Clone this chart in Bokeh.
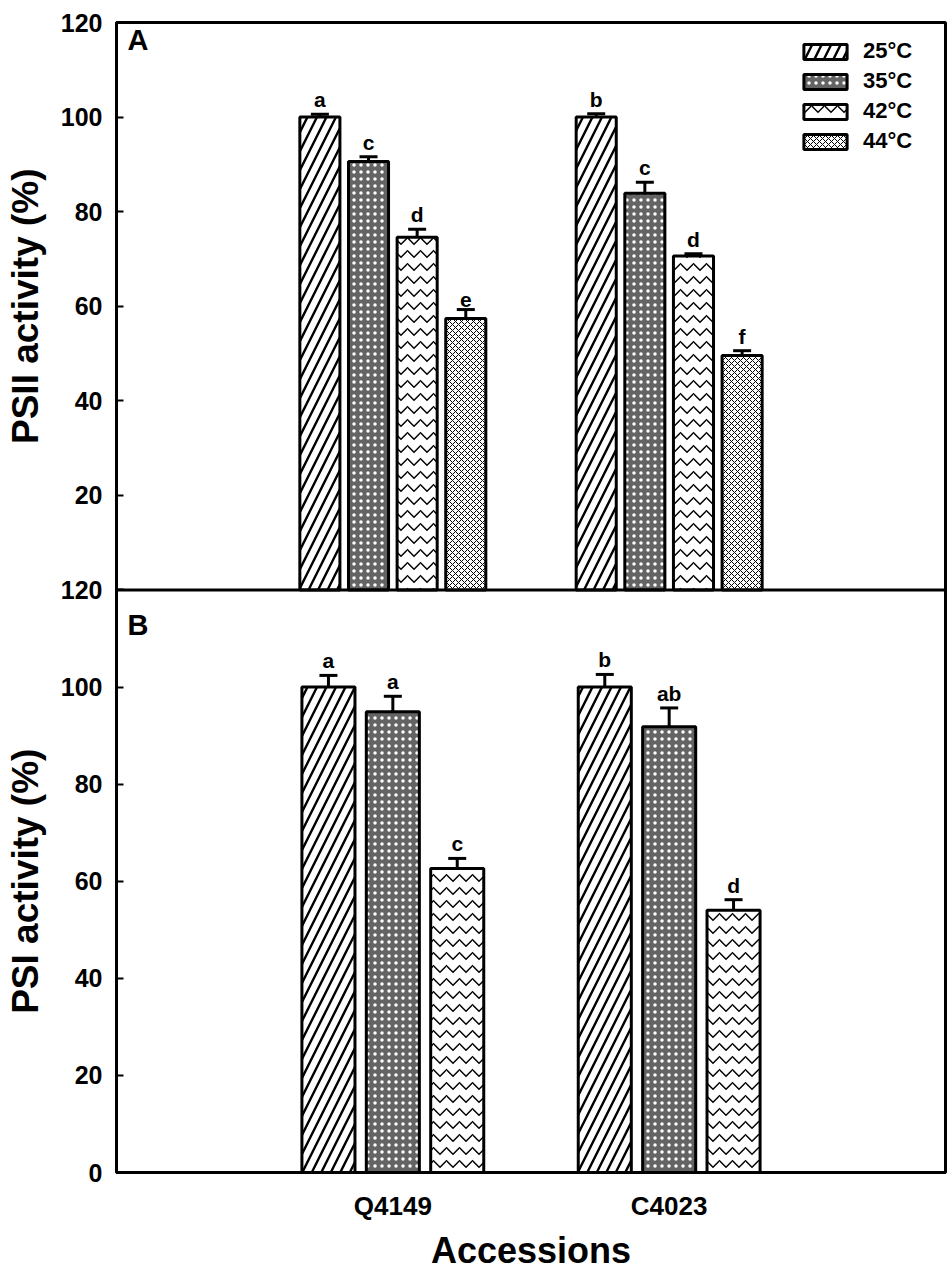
import math
from bokeh.plotting import figure
from bokeh.layouts import row
from bokeh.models import Range1d, FixedTicker, Whisker, TeeHead, ColumnDataSource, Legend, LegendItem, Label, Span
from bokeh.embed import file_html
from bokeh.resources import INLINE
from bokeh.core.properties import value

FONT = "Liberation Sans"

accessions = ["Q4149", "C4023"]

# Panel A: PSII activity
temps_a = ["25°C", "35°C", "42°C", "44°C"]
psii_vals = [[100.0, 100.0], [90.6, 83.9], [74.6, 70.6], [57.4, 49.6]]
psii_err = [[0.6, 0.7], [1.0, 2.3], [1.7, 0.5], [1.9, 1.0]]
psii_letters = [["a", "b"], ["c", "c"], ["d", "d"], ["e", "f"]]

# Panel B: PSI activity
temps_b = ["25°C", "35°C", "42°C"]
psi_vals = [[100.0, 100.0], [94.9, 91.8], [62.6, 54.0]]
psi_err = [[2.4, 2.6], [3.2, 3.9], [2.1, 2.2]]
psi_letters = [["a", "b"], ["a", "ab"], ["c", "d"]]

y_ticks_a = [20, 40, 60, 80, 100, 120]
y_ticks_b = [0, 20, 40, 60, 80, 100, 120]
y_titles = ["PSII activity (%)", "PSI activity (%)"]

# the two panels share one frame: panel B on the main y range, panel A stacked above it
B_MAX = 120.0
A_SPAN = 116.9          # main-range units occupied by panel A's 0..120
A_SCALE = A_SPAN / 120.0
A_START = -B_MAX / A_SCALE

TOP, BOTTOM, LEFT, RIGHT = 22, 100, 60, 3
FRAME_W, FRAME_H = 829, 1151
TITLE_W = 56

styles = {
    "25°C": dict(fill_color="white", hatch_pattern="/", hatch_color="black", hatch_scale=19, hatch_weight=2.4),
    "35°C": dict(fill_color="#646464", hatch_pattern=".", hatch_color="white", hatch_scale=7, hatch_weight=1.6),
    "42°C": dict(fill_color="white", hatch_pattern="v", hatch_color="black", hatch_scale=13, hatch_weight=1.5),
    "44°C": dict(fill_color="white", hatch_pattern="x", hatch_color="black", hatch_scale=6, hatch_weight=1.0),
}

y_main = Range1d(0, B_MAX + A_SPAN)
y_a = Range1d(A_START, 120)

p = figure(width=LEFT + FRAME_W + RIGHT, height=TOP + FRAME_H + BOTTOM,
           x_range=Range1d(0, 3), y_range=y_main,
           output_backend="svg", toolbar_location=None,
           min_border_left=LEFT, min_border_right=RIGHT, min_border_top=TOP, min_border_bottom=BOTTOM,
           background_fill_color="white", border_fill_color="white")
p.extra_y_ranges = {"A": y_a}
p.xgrid.visible = False
p.ygrid.visible = False
p.outline_line_color = "black"
p.outline_line_width = 3


def draw_panel(temps, vals, errs, letters, step, bw, rng):
    n = len(temps)
    items = []
    for i, t in enumerate(temps):
        off = (i - (n - 1) / 2) * step
        xs = [g + 1 + off for g in range(len(accessions))]
        tops = [v + e for v, e in zip(vals[i], errs[i])]
        src = ColumnDataSource(dict(x=xs, top=vals[i], upper=tops, lower=vals[i], lab=letters[i]))
        r = p.vbar(x="x", top="top", bottom=0, width=bw, source=src, y_range_name=rng,
                   line_color="black", line_width=3, **styles[t])
        w = Whisker(base="x", upper="upper", lower="lower", source=src, dimension="height",
                    y_range_name=rng, line_color="black", line_width=3,
                    upper_head=TeeHead(size=18, line_width=3, line_color="black"),
                    lower_head=None)
        p.add_layout(w)
        p.text(x="x", y="upper", text="lab", source=src, y_range_name=rng,
               text_align="center", text_baseline="bottom",
               y_offset=-3, text_font=value(FONT), text_font_style="bold", text_font_size="21px",
               text_color="black")
        items.append(LegendItem(label=t, renderers=[r]))
    return items


items_a = draw_panel(temps_a, psii_vals, psii_err, psii_letters, 0.176, 0.145, "A")
draw_panel(temps_b, psi_vals, psi_err, psi_letters, 0.233, 0.192, "default")

# divider between panels
p.add_layout(Span(location=B_MAX, dimension="width", line_color="black", line_width=3))

legend = Legend(items=items_a, location=(682, 1018), orientation="vertical",
                glyph_width=54, glyph_height=19, spacing=4, padding=0, margin=0,
                label_standoff=11, label_text_font=FONT, label_text_font_style="bold",
                label_text_font_size="22px", label_text_color="black",
                border_line_color=None, background_fill_alpha=0)
p.add_layout(legend, "center")

p.add_layout(Label(x=0.04, y=120, y_range_name="A", text="A", text_baseline="top", y_offset=-1,
                   text_font=FONT, text_font_style="bold", text_font_size="29px", text_color="black"))
p.add_layout(Label(x=0.04, y=116, text="B", text_baseline="top",
                   text_font=FONT, text_font_style="bold", text_font_size="29px", text_color="black"))

# y axis ticks: panel B values on the main range, panel A values mapped above them
a_positions = [B_MAX + v * A_SCALE for v in y_ticks_a]
ticks = list(y_ticks_b) + a_positions
overrides = {pos: str(v) for pos, v in zip(a_positions, y_ticks_a)}

ya = p.yaxis[0]
ya.ticker = FixedTicker(ticks=ticks)
ya.major_label_overrides = overrides
ya.minor_tick_line_color = None
ya.major_tick_in = 7
ya.major_tick_out = 0
ya.major_tick_line_width = 2
ya.axis_line_width = 3
ya.axis_line_color = "black"
ya.major_label_standoff = 14
ya.major_label_text_font = FONT
ya.major_label_text_font_style = "bold"
ya.major_label_text_font_size = "25px"
ya.major_label_text_color = "black"

xa = p.xaxis[0]
xa.ticker = FixedTicker(ticks=[1, 2])
xa.major_label_overrides = {1: accessions[0], 2: accessions[1]}
xa.minor_tick_line_color = None
xa.axis_line_width = 3
xa.axis_line_color = "black"
xa.major_tick_in = 0
xa.major_tick_out = 0
xa.major_label_standoff = 18
xa.major_label_text_font = FONT
xa.major_label_text_font_style = "bold"
xa.major_label_text_font_size = "26px"
xa.major_label_text_color = "black"
xa.axis_label = "Accessions"
xa.axis_label_text_font = FONT
xa.axis_label_text_font_style = "bold"
xa.axis_label_text_font_size = "36px"
xa.axis_label_text_color = "black"
xa.axis_label_standoff = 6

# narrow strip on the left carrying the two vertical axis titles, sharing the y ranges
t = figure(width=TITLE_W, height=TOP + FRAME_H + BOTTOM,
           x_range=Range1d(0, 1), y_range=y_main,
           output_backend="svg", toolbar_location=None,
           x_axis_location=None, y_axis_location=None,
           min_border_left=0, min_border_right=0, min_border_top=TOP, min_border_bottom=BOTTOM,
           background_fill_color="white", border_fill_color="white")
t.extra_y_ranges = {"A": y_a}
t.outline_line_color = None
t.xgrid.visible = False
t.ygrid.visible = False
t.text(x=[0.44], y=[60], text=[y_titles[0]], y_range_name="A", angle=math.pi / 2,
       text_align="center", text_baseline="middle", text_font=value(FONT), text_font_style="bold",
       text_font_size="37px", text_color="black")
t.text(x=[0.44], y=[60], text=[y_titles[1]], angle=math.pi / 2,
       text_align="center", text_baseline="middle", text_font=value(FONT), text_font_style="bold",
       text_font_size="37px", text_color="black")

layout = row(t, p, spacing=0)
open("out.html", "w").write(file_html(layout, INLINE))
